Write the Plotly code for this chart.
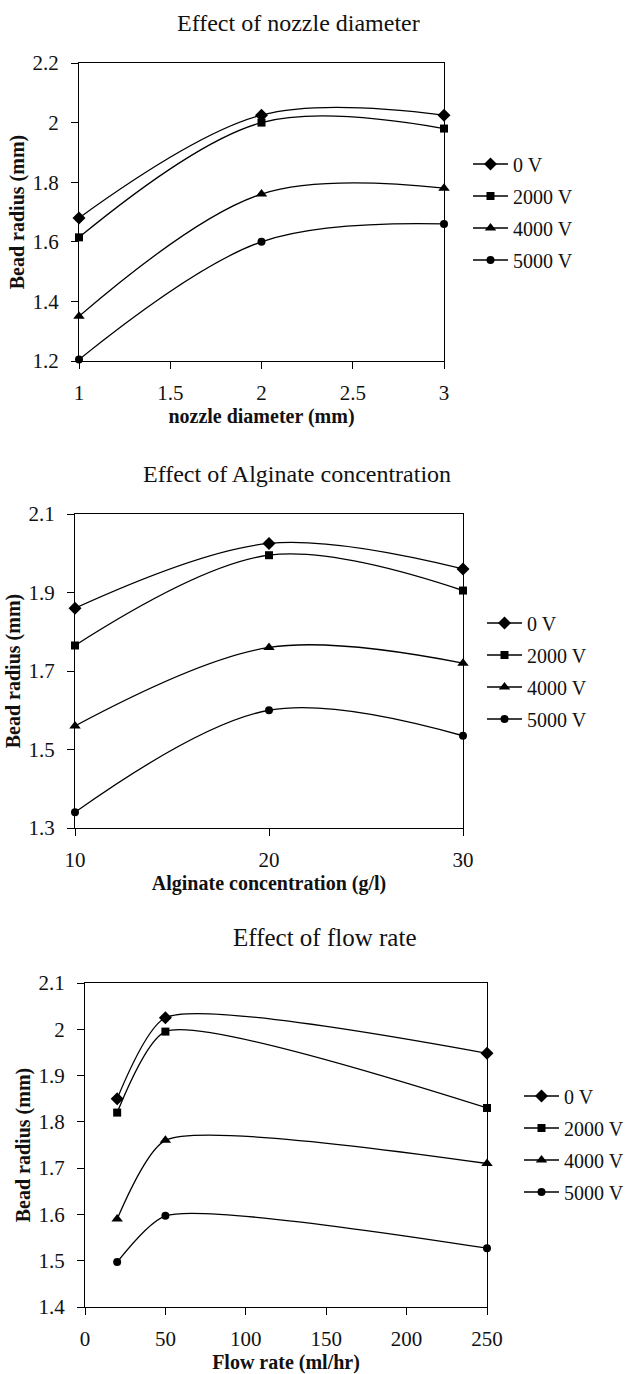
import plotly.graph_objects as go

# ---------------- data ----------------
series_names = ["0 V", "2000 V", "4000 V", "5000 V"]
marker_symbols = ["diamond", "square", "triangle-up", "circle"]
marker_sizes = [10, 8, 10, 8]

nozzle_diameter = [1, 2, 3]
nozzle_radius = {
    "0 V": [1.68, 2.025, 2.025],
    "2000 V": [1.615, 2.0, 1.98],
    "4000 V": [1.35, 1.76, 1.78],
    "5000 V": [1.205, 1.60, 1.66],
}

alginate_conc = [10, 20, 30]
alginate_radius = {
    "0 V": [1.86, 2.025, 1.96],
    "2000 V": [1.765, 1.995, 1.905],
    "4000 V": [1.56, 1.76, 1.72],
    "5000 V": [1.34, 1.60, 1.535],
}

flow_rate = [20, 50, 250]
flow_radius = {
    "0 V": [1.85, 2.025, 1.948],
    "2000 V": [1.82, 1.995, 1.83],
    "4000 V": [1.59, 1.76, 1.71],
    "5000 V": [1.497, 1.597, 1.527],
}

panel_titles = ["Effect of nozzle diameter", "Effect of Alginate concentration", "Effect of flow rate"]
x_titles = ["nozzle diameter (mm)", "Alginate concentration (g/l)", "Flow rate (ml/hr)"]
y_title = "Bead radius (mm)"

# ---------------- layout geometry (pixels) ----------------
W, H = 638, 1374
FONT = "Liberation Serif, Times New Roman, serif"
INK = "#111111"

def px_x(p):
    return p / W

def px_y(p):
    return 1 - p / H

panels = [
    dict(x=nozzle_diameter, data=nozzle_radius, plot=(79, 444, 63, 361),
         xr=[1, 3], xdt=0.5, yr=[1.2, 2.2], ydt=0.2, title_xy=(298, 23), title_size=24,
         leg=(468, 212), smooth=1.0),
    dict(x=alginate_conc, data=alginate_radius, plot=(75, 463, 514, 828),
         xr=[10, 30], xdt=10, yr=[1.3, 2.1], ydt=0.2, title_xy=(297, 474), title_size=24,
         leg=(482, 671), smooth=1.0),
    dict(x=flow_rate, data=flow_radius, plot=(85, 487, 983, 1307),
         xr=[0, 250], xdt=50, yr=[1.4, 2.1], ydt=0.1, title_xy=(324, 937), title_size=25,
         leg=(519, 1144), smooth=0.6),
]

fig = go.Figure()
layout = dict(
    width=W, height=H,
    margin=dict(l=0, r=0, t=0, b=0, autoexpand=False),
    paper_bgcolor="white", plot_bgcolor="white",
    font=dict(family=FONT, size=20, color=INK),
    annotations=[],
)

for i, p in enumerate(panels):
    n = "" if i == 0 else str(i + 1)
    xa, ya = "x" + n, "y" + n
    leg = "legend" + n
    for k, name in enumerate(series_names):
        fig.add_trace(go.Scatter(
            x=p["x"], y=p["data"][name], name=name,
            xaxis=xa, yaxis=ya, legend=leg, legendgroup=f"{i}-{k}",
            mode="lines+markers",
            line=dict(color="black", width=1.3, shape="spline", smoothing=p["smooth"]),
            marker=dict(symbol=marker_symbols[k], size=marker_sizes[k], color="black"),
            cliponaxis=False,
        ))
    l, r, t, b = p["plot"]
    layout["xaxis" + n] = dict(
        domain=[px_x(l), px_x(r)], anchor=ya, range=p["xr"], dtick=p["xdt"], tick0=p["xr"][0],
        showline=True, linecolor="black", linewidth=1.2, mirror=True,
        ticks="outside", ticklen=7, tickcolor="black", tickwidth=1.2,
        showgrid=False, zeroline=False, ticklabelstandoff=6,
        tickfont=dict(size=21, family=FONT, color=INK),
        title=dict(text="<b>" + x_titles[i] + "</b>", standoff=0,
                   font=dict(size=20, family=FONT, color=INK)),
    )
    layout["yaxis" + n] = dict(
        domain=[px_y(b), px_y(t)], anchor=xa, range=p["yr"], dtick=p["ydt"], tick0=p["yr"][0],
        showline=True, linecolor="black", linewidth=1.2, mirror=True,
        ticks="outside", ticklen=7, tickcolor="black", tickwidth=1.2,
        showgrid=False, zeroline=False, ticklabelstandoff=8,
        tickfont=dict(size=21, family=FONT, color=INK),
        title=dict(text="<b>" + y_title + "</b>", standoff=2,
                   font=dict(size=20, family=FONT, color=INK)),
    )
    lx, ly = p["leg"]
    layout[leg] = dict(
        x=px_x(lx), y=px_y(ly), xanchor="left", yanchor="middle",
        bgcolor="rgba(0,0,0,0)", borderwidth=0, itemwidth=35,
        tracegroupgap=3, traceorder="grouped",
        font=dict(size=20, family=FONT, color=INK),
    )
    tx, ty = p["title_xy"]
    layout["annotations"].append(dict(
        text=panel_titles[i], x=px_x(tx), y=px_y(ty), xref="paper", yref="paper",
        xanchor="center", yanchor="middle", showarrow=False,
        font=dict(size=p["title_size"], family=FONT, color=INK),
    ))

fig.update_layout(**layout)
fig.write_html("out.html")
